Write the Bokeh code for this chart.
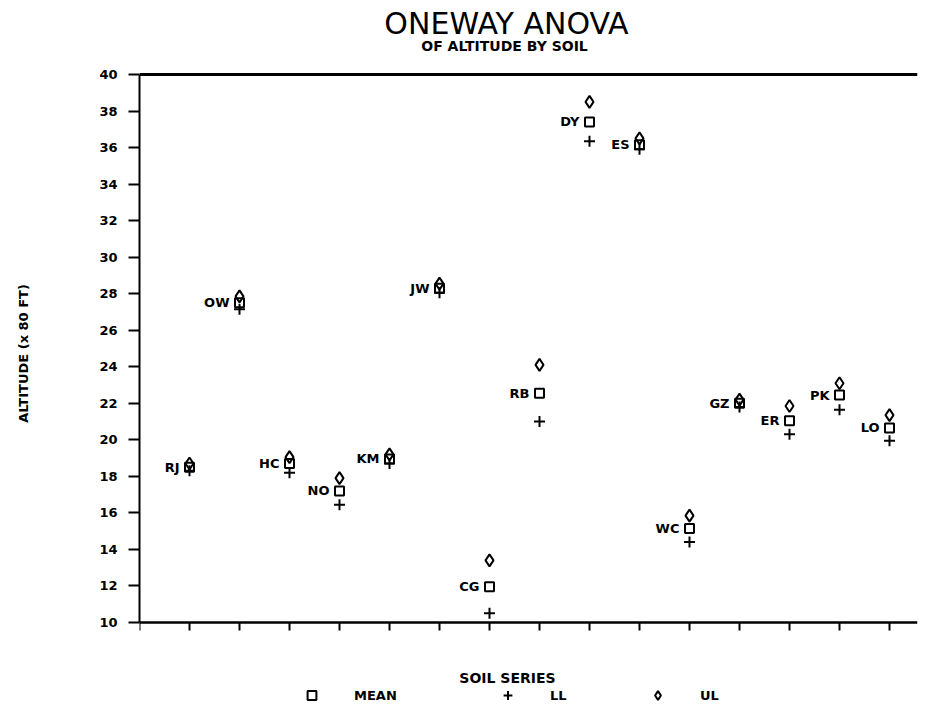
from bokeh.plotting import figure
from bokeh.models import (Range1d, FixedTicker, LinearAxis, Legend, LegendItem, Label, Span,
                          ColumnDataSource)
from bokeh.core.properties import value
from bokeh.embed import file_html
from bokeh.resources import INLINE

# ---- data ----
soils = ["RJ", "OW", "HC", "NO", "KM", "JW", "CG", "RB", "DY", "ES", "WC", "GZ", "ER", "PK", "LO"]
mean_alt = [18.5, 27.5, 18.7, 17.2, 18.95, 28.3, 11.95, 22.55, 37.4, 36.15, 15.15, 22.0, 21.05, 22.45, 20.65]
ll_alt = [18.3, 27.15, 18.2, 16.45, 18.7, 28.05, 10.5, 21.0, 36.35, 35.9, 14.4, 21.8, 20.3, 21.65, 19.95]
ul_alt = [18.7, 27.85, 19.05, 17.9, 19.2, 28.55, 13.4, 24.1, 38.5, 36.5, 15.85, 22.2, 21.85, 23.1, 21.35]
y_ticks = list(range(10, 41, 2))
x_ticks = list(range(0, 16))
y_lo, y_hi = 10, 40

xpos = list(range(1, len(soils) + 1))
src = ColumnDataSource(dict(x=xpos, soil=soils, mean=mean_alt, ll=ll_alt, ul=ul_alt))

FONT = value("DejaVu Sans")

# the frame fills the canvas height so that titles and legend can sit inside it
p = figure(width=918, height=706, output_backend="svg", toolbar_location=None, title=None,
           x_range=Range1d(0, 15.56), y_range=Range1d(5.40, 44.05),
           min_border_left=139, min_border_right=1, min_border_top=0, min_border_bottom=0,
           x_axis_type=None, y_axis_type=None)
p.grid.visible = False
p.outline_line_color = None
p.background_fill_color = "white"
p.border_fill_color = "white"

# y axis (limited to 10..40)
yax = LinearAxis(ticker=FixedTicker(ticks=y_ticks, minor_ticks=[]), bounds=(y_lo, y_hi))
yax.axis_line_width = 2
yax.major_tick_line_width = 2
yax.major_tick_out = 11
yax.major_tick_in = 0
yax.minor_tick_out = 0
yax.minor_tick_in = 0
yax.major_label_standoff = 11
yax.major_label_text_font = "DejaVu Sans"
yax.major_label_text_font_style = "bold"
yax.major_label_text_font_size = "13px"
yax.major_label_text_color = "black"
yax.axis_label = "ALTITUDE (x 80 FT)"
yax.axis_label_text_font = "DejaVu Sans"
yax.axis_label_text_font_style = "bold"
yax.axis_label_text_font_size = "13px"
yax.axis_label_text_color = "black"
yax.axis_label_standoff = 65
p.add_layout(yax, "left")

# x axis drawn at y = 10, ticks pointing down
xax = LinearAxis(ticker=FixedTicker(ticks=x_ticks, minor_ticks=[]), fixed_location=y_lo)
xax.axis_line_width = 2.5
xax.major_tick_line_width = 2
xax.major_tick_in = 8
xax.major_tick_out = 0
xax.minor_tick_out = 0
xax.minor_tick_in = 0
xax.major_label_standoff = 0
xax.major_label_text_font_size = "1px"
xax.major_label_overrides = {i: "" for i in x_ticks}
p.add_layout(xax, "above")

# top border line at y = 40
p.add_layout(Span(location=y_hi, dimension="width", line_color="black", line_width=3))

# markers
r_mean = p.scatter("x", "mean", source=src, marker="square", size=9,
                   fill_color=None, line_color="black", line_width=2)
r_ll = p.scatter("x", "ll", source=src, marker="cross", size=11,
                 line_color="black", line_width=2)
r_ul = p.scatter("x", "ul", source=src, marker="diamond", size=12,
                 fill_color=None, line_color="black", line_width=2)

# point labels
p.text("x", "mean", text="soil", source=src, x_offset=-10, text_align="right",
       text_baseline="middle", text_font=FONT, text_font_style="bold",
       text_font_size="13px", text_color="black")

# titles and x-axis title (screen units, from the frame's bottom-left)
p.add_layout(Label(x=367, y=683, x_units="screen", y_units="screen", text="ONEWAY ANOVA",
                   text_align="center", text_baseline="middle", text_font="DejaVu Sans",
                   text_font_size="30px", text_color="black"))
p.add_layout(Label(x=365, y=661, x_units="screen", y_units="screen", text="OF ALTITUDE BY SOIL",
                   text_align="center", text_baseline="middle", text_font="DejaVu Sans",
                   text_font_style="bold", text_font_size="14px", text_color="black"))
p.add_layout(Label(x=368, y=29, x_units="screen", y_units="screen", text="SOIL SERIES",
                   text_align="center", text_baseline="middle", text_font="DejaVu Sans",
                   text_font_style="bold", text_font_size="14px", text_color="black"))

# legend row
def mk_legend(label, rend, loc):
    lg = Legend(items=[LegendItem(label=label, renderers=[rend])], location=loc,
                orientation="horizontal", glyph_width=25, glyph_height=22,
                label_standoff=30, padding=0, margin=0, border_line_color=None,
                background_fill_alpha=0, label_text_font="DejaVu Sans",
                label_text_font_style="bold", label_text_font_size="13px",
                label_text_color="black")
    p.add_layout(lg, "center")

mk_legend("MEAN", r_mean, (160, 0))
mk_legend("LL", r_ll, (356, 0))
mk_legend("UL", r_ul, (506, 0))

open("out.html", "w").write(file_html(p, INLINE))
